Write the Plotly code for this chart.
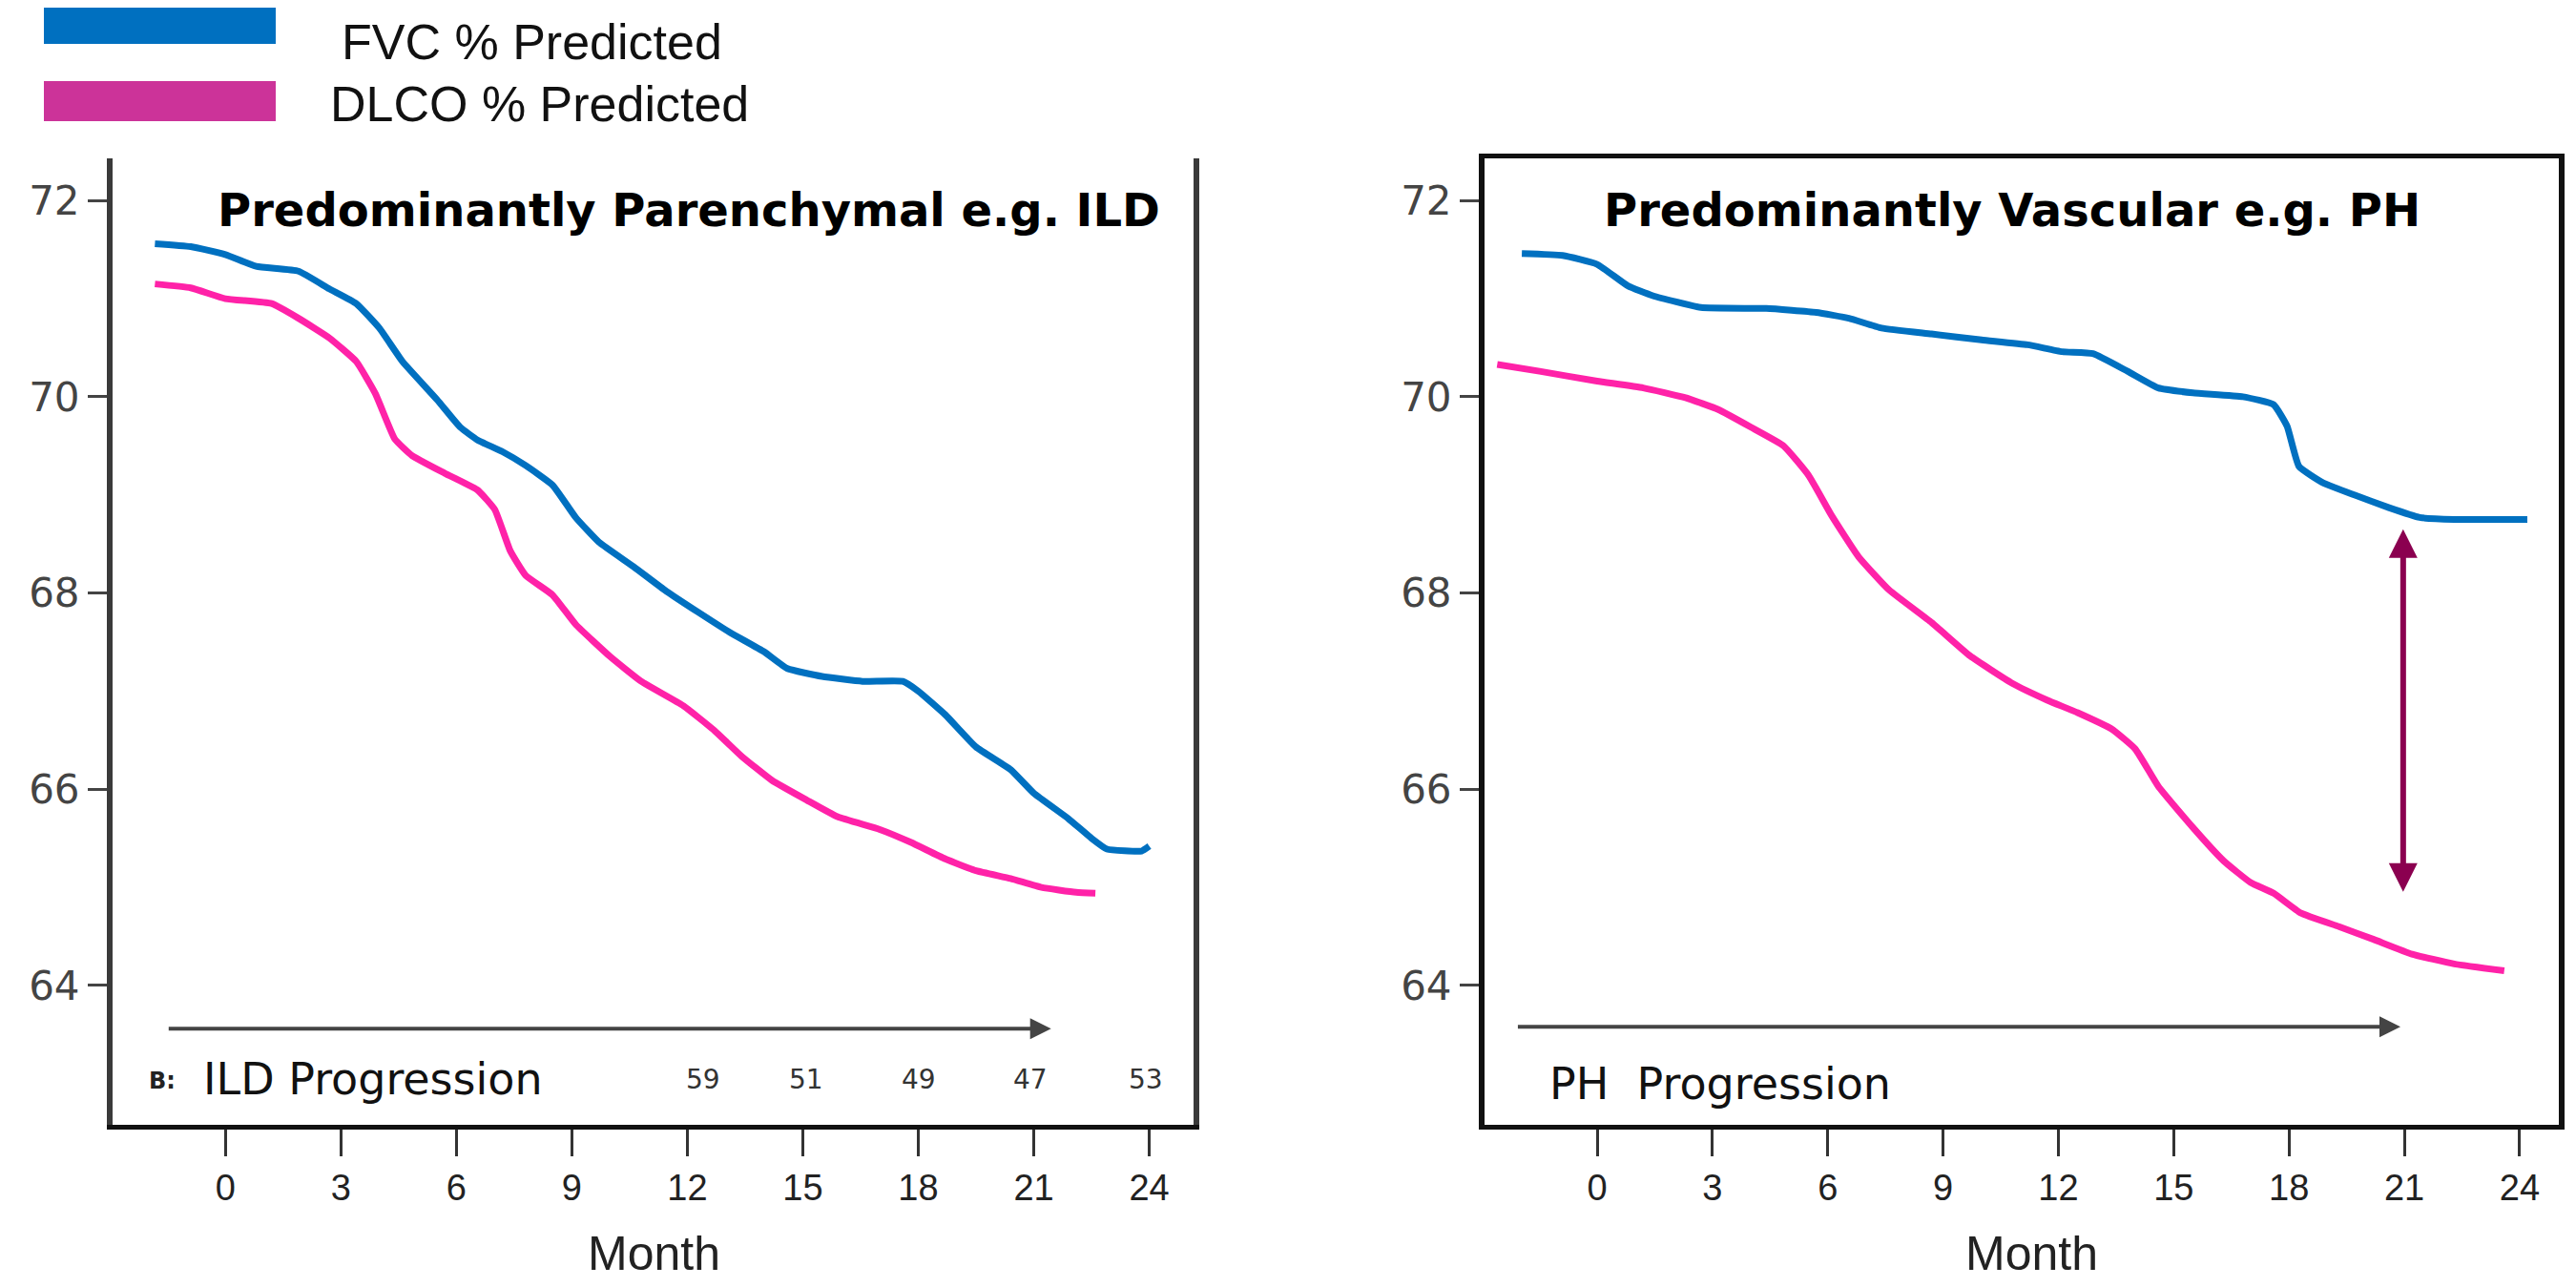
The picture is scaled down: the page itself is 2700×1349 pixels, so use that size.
import plotly.graph_objects as go

# ---------------- data ----------------
# Left panel: Predominantly Parenchymal e.g. ILD
ild_fvc_month = [-1.83, -0.9, 0.0, 0.8, 1.9, 2.7, 3.4, 4.0, 4.6, 5.5, 6.1, 6.55, 7.2, 7.8, 8.5, 9.1, 9.7,
                 10.6, 11.45, 12.3, 13.1, 14.0, 14.6, 15.5, 16.55, 17.6, 18.0, 18.7, 19.5, 20.4, 21.0,
                 21.9, 22.5, 22.9, 23.8, 24.0]
ild_fvc_value = [71.56, 71.53, 71.45, 71.33, 71.28, 71.1, 70.95, 70.7, 70.36, 69.97, 69.69, 69.56, 69.44,
                 69.3, 69.1, 68.77, 68.52, 68.27, 68.02, 67.8, 67.6, 67.4, 67.23, 67.15, 67.1, 67.1, 67.0,
                 66.76, 66.43, 66.2, 65.96, 65.7, 65.5, 65.39, 65.37, 65.42]

ild_dlco_month = [-1.83, -0.9, 0.0, 1.2, 1.9, 2.7, 3.4, 3.9, 4.4, 4.85, 5.7, 6.55, 7.0, 7.4, 7.8, 8.5, 9.1,
                  10.0, 10.8, 11.9, 12.7, 13.4, 14.2, 15.1, 15.9, 17.0, 17.8, 18.7, 19.5, 20.4, 21.2,
                  22.1, 22.6]
ild_dlco_value = [71.15, 71.11, 71.0, 70.95, 70.8, 70.6, 70.36, 70.03, 69.57, 69.4, 69.22, 69.05, 68.85,
                  68.43, 68.18, 67.98, 67.68, 67.35, 67.1, 66.85, 66.6, 66.34, 66.09, 65.89, 65.72, 65.59,
                  65.46, 65.29, 65.17, 65.09, 65.0, 64.95, 64.94]

# Right panel: Predominantly Vascular e.g. PH
ph_fvc_month = [-1.96, -0.9, 0.0, 0.8, 1.45, 2.7, 4.4, 5.7, 6.55, 7.4, 8.7, 10.0, 11.2, 12.1, 12.9, 13.8,
                14.6, 15.5, 16.8, 17.6, 17.95, 18.26, 18.9, 19.7, 20.6, 21.4, 22.3, 24.2]
ph_fvc_value = [71.46, 71.44, 71.35, 71.13, 71.03, 70.91, 70.9, 70.86, 70.8, 70.7, 70.64, 70.58, 70.53,
                70.46, 70.44, 70.26, 70.09, 70.04, 70.0, 69.92, 69.7, 69.29, 69.12, 69.0, 68.87, 68.77,
                68.75, 68.75]

ph_dlco_month = [-2.6, -1.5, 0.0, 1.2, 2.3, 3.15, 4.0, 4.85, 5.5, 6.1, 6.8, 7.6, 8.7, 9.7, 10.8, 11.7,
                 12.5, 13.4, 14.0, 14.6, 15.5, 16.3, 17.0, 17.6, 18.3, 19.3, 20.2, 21.2, 22.3, 23.6]
ph_dlco_value = [70.33, 70.26, 70.16, 70.09, 69.99, 69.87, 69.69, 69.5, 69.2, 68.79, 68.37, 68.03, 67.7,
                 67.36, 67.08, 66.91, 66.78, 66.61, 66.41, 66.03, 65.61, 65.27, 65.05, 64.94, 64.74, 64.6,
                 64.47, 64.32, 64.22, 64.15]

month_ticks = [0, 3, 6, 9, 12, 15, 18, 21, 24]
value_ticks = [64, 66, 68, 70, 72]

series_names = ["FVC % Predicted", "DLCO % Predicted"]
panel_titles = ["Predominantly Parenchymal e.g. ILD", "Predominantly Vascular e.g. PH"]
progression_labels = ["ILD Progression", "PH  Progression"]
at_risk_labels = ["59", "51", "49", "47", "53"]
at_risk_months = [12.4, 15.1, 18.0, 20.9, 23.9]

# progression arrows (start month, end month, level)
ild_arrow = [-1.51, 21.45, 63.56]
ph_arrow = [-2.1, 20.9, 63.58]
# gap arrow in PH panel (month, top, bottom)
gap_arrow = [20.97, 68.65, 64.94]

# ---------------- style ----------------
BLUE = "#0070C0"
PINK = "#FF22A8"
LEG_PINK = "#CC3399"
GAP = "#8B0050"
W, H = 2700, 1349

def px(x):
    return x / W

def py(y):
    return 1 - y / H

fig = go.Figure()
line_style = dict(width=7, shape="spline", smoothing=0.4)
fig.add_trace(go.Scatter(x=ild_fvc_month, y=ild_fvc_value, mode="lines", xaxis="x", yaxis="y",
                         line=dict(color=BLUE, **line_style), name=series_names[0], showlegend=False))
fig.add_trace(go.Scatter(x=ild_dlco_month, y=ild_dlco_value, mode="lines", xaxis="x", yaxis="y",
                         line=dict(color=PINK, **line_style), name=series_names[1], showlegend=False))
fig.add_trace(go.Scatter(x=ph_fvc_month, y=ph_fvc_value, mode="lines", xaxis="x2", yaxis="y2",
                         line=dict(color=BLUE, **line_style), name=series_names[0], showlegend=False))
fig.add_trace(go.Scatter(x=ph_dlco_month, y=ph_dlco_value, mode="lines", xaxis="x2", yaxis="y2",
                         line=dict(color=PINK, **line_style), name=series_names[1], showlegend=False))

yrange = [62.58, 72.43]
ydom = [py(1171), py(158)]

xtickfont = dict(family="Liberation Sans Narrow, Arial Narrow, Liberation Sans, Arial", size=38, color="#222")
ytickfont = dict(family="DejaVu Sans, Verdana, sans-serif", size=42, color="#444")

def xaxis_cfg(dom, rng, mirror):
    return dict(domain=dom, range=rng, tickvals=month_ticks, ticks="outside", ticklen=28, tickwidth=3,
                tickcolor="#333", showline=True, linewidth=5, linecolor="#111", mirror=mirror,
                showgrid=False, zeroline=False, tickfont=xtickfont, fixedrange=True)

def yaxis_cfg(color):
    return dict(domain=ydom, range=yrange, tickvals=value_ticks, ticks="outside", ticklen=20, tickwidth=3,
                tickcolor="#444", showline=True, linewidth=6, linecolor=color, mirror=True,
                showgrid=False, zeroline=False, tickfont=ytickfont, fixedrange=True)

fig.update_layout(
    width=W, height=H, autosize=False,
    margin=dict(l=0, r=0, t=0, b=0),
    paper_bgcolor="white", plot_bgcolor="white",
    font=dict(family="Liberation Sans, Arial, sans-serif", color="#111"),
    xaxis=dict(anchor="y", **xaxis_cfg([px(110), px(1243)], [-2.93, 25.15], False)),
    yaxis=dict(anchor="x", **yaxis_cfg("#3a3a3a")),
    xaxis2=dict(anchor="y2", **xaxis_cfg([px(1548), px(2674)], [-2.93, 25.02], True)),
    yaxis2=dict(anchor="x2", **yaxis_cfg("#111")),
)

ann = []
# panel titles
title_font = dict(family="DejaVu Sans, Arial, sans-serif", size=48, color="#000")
ann.append(dict(xref="paper", yref="paper", x=px(714), y=py(212), text="<b>" + panel_titles[0] + "</b>",
                showarrow=False, font=title_font, xanchor="center", yanchor="middle"))
ann.append(dict(xref="paper", yref="paper", x=px(2101), y=py(212), text="<b>" + panel_titles[1] + "</b>",
                showarrow=False, font=title_font, xanchor="center", yanchor="middle"))
# Month labels
month_font = dict(family="Liberation Sans, Arial, sans-serif", size=50, color="#222")
ann.append(dict(xref="paper", yref="paper", x=px(677), y=py(1306), text="Month", showarrow=False,
                font=month_font, xanchor="center", yanchor="middle"))
ann.append(dict(xref="paper", yref="paper", x=px(2121), y=py(1306), text="Month", showarrow=False,
                font=month_font, xanchor="center", yanchor="middle"))
# progression labels
prog_font = dict(family="DejaVu Sans, Arial, sans-serif", size=46, color="#111")
ann.append(dict(xref="paper", yref="paper", x=px(203), y=py(1123), text=progression_labels[0],
                showarrow=False, font=prog_font, xanchor="left", yanchor="middle"))
ann.append(dict(xref="paper", yref="paper", x=px(1614), y=py(1128), text=progression_labels[1],
                showarrow=False, font=prog_font, xanchor="left", yanchor="middle"))
ann.append(dict(xref="paper", yref="paper", x=px(162), y=py(1125), text="<b>B:</b>",
                showarrow=False, font=dict(family="DejaVu Sans", size=24, color="#222"),
                xanchor="center", yanchor="middle"))
for m, t in zip(at_risk_months, at_risk_labels):
    ann.append(dict(xref="x", yref="paper", x=m, y=py(1123), text=t, showarrow=False,
                    font=dict(family="DejaVu Sans", size=28, color="#333"), xanchor="center", yanchor="middle"))
# progression arrows
ann.append(dict(xref="x", yref="y", axref="x", ayref="y", x=ild_arrow[1], y=ild_arrow[2],
                ax=ild_arrow[0], ay=ild_arrow[2], showarrow=True, arrowhead=2, arrowsize=1.1,
                arrowwidth=4, arrowcolor="#444", text=""))
ann.append(dict(xref="x2", yref="y2", axref="x2", ayref="y2", x=ph_arrow[1], y=ph_arrow[2],
                ax=ph_arrow[0], ay=ph_arrow[2], showarrow=True, arrowhead=2, arrowsize=1.1,
                arrowwidth=4, arrowcolor="#444", text=""))
# gap arrow
ann.append(dict(xref="x2", yref="y2", axref="x2", ayref="y2", x=gap_arrow[0], y=gap_arrow[1],
                ax=gap_arrow[0], ay=gap_arrow[2], showarrow=True, arrowhead=2, startarrowhead=2,
                arrowside="end+start", arrowsize=1.0, startarrowsize=1.0, arrowwidth=6,
                arrowcolor=GAP, text=""))
# legend text
leg_font = dict(family="Liberation Sans, Arial, sans-serif", size=52, color="#111")
ann.append(dict(xref="paper", yref="paper", x=px(348), y=py(36), text=series_names[0], showarrow=False,
                font=leg_font, xanchor="left", yanchor="middle"))
ann.append(dict(xref="paper", yref="paper", x=px(336), y=py(101), text=series_names[1], showarrow=False,
                font=leg_font, xanchor="left", yanchor="middle"))

shapes = [
    dict(type="rect", xref="paper", yref="paper", x0=px(38), x1=px(281), y0=py(38), y1=py(0),
         fillcolor=BLUE, line=dict(width=0)),
    dict(type="rect", xref="paper", yref="paper", x0=px(38), x1=px(281), y0=py(119), y1=py(77),
         fillcolor=LEG_PINK, line=dict(width=0)),
]

fig.update_layout(annotations=ann, shapes=shapes)
fig.write_html("out.html")
